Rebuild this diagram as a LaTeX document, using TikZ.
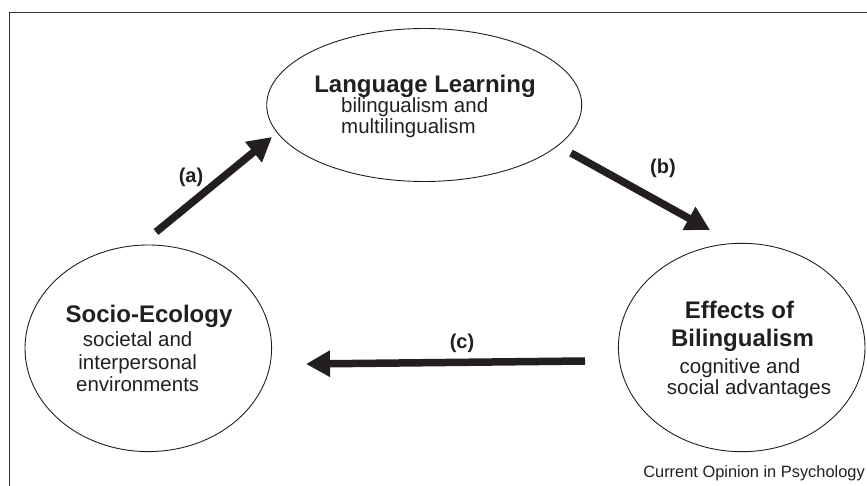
\documentclass[tikz,border=0pt]{standalone}
\usepackage{fontspec}
\setmainfont{Liberation Sans}
\usetikzlibrary{arrows.meta,shapes.geometric}
\definecolor{ink}{RGB}{35,31,32}
\definecolor{framegray}{RGB}{50,50,50}
\begin{document}
\begin{tikzpicture}[x=1pt,y=-1pt,
  bubble/.style={draw=ink, line width=0.9pt, ellipse, inner sep=0pt},
  bigarrow/.style={draw=ink, line width=7.5pt, -{Triangle[length=24pt,width=25pt]}},
  ttl/.style={font=\bfseries\fontsize{24}{26}\selectfont, text=ink, inner sep=0pt, anchor=base},
  sub/.style={font=\fontsize{20.5}{23}\selectfont, text=ink, inner sep=0pt, anchor=base},
  lbl/.style={font=\bfseries\fontsize{20}{22}\selectfont, text=ink, inner sep=0pt, anchor=center},
  credit/.style={font=\fontsize{16.4}{18}\selectfont, text=ink, inner sep=0pt, anchor=base east}]
\useasboundingbox (0,0) rectangle (867,486);
% frame (clipped by page edges)
\draw[framegray, line width=1.4pt] (9.5,486) -- (9.5,12.5) -- (867,12.5);
% ellipses
\node[bubble, minimum width=315pt, minimum height=153pt] (lang) at (424.2,105) {};
\node[bubble, minimum width=246.6pt, minimum height=206.6pt] (socio) at (148.3,348.3) {};
\node[bubble, minimum width=246.6pt, minimum height=208.4pt] (effects) at (741.7,347.5) {};
% texts
\node[ttl] (langT) at (425,93) {Language Learning};
\node[sub, anchor=base west] (langS1) at (341,113) {bilingualism and};
\node[sub, anchor=base west] (langS2) at (341,134) {multilingualism};
\node[ttl] (socioT) at (149,322) {Socio-Ecology};
\node[sub] (socioS1) at (137.7,346.5) {societal and};
\node[sub] (socioS2) at (137.7,369) {interpersonal};
\node[sub] (socioS3) at (137.7,391) {environments};
\node[ttl] (effT1) at (739.5,318) {Effects of};
\node[ttl] (effT2) at (742.5,346.7) {Bilingualism};
\node[sub] (effS1) at (740,373) {cognitive and};
\node[sub] (effS2) at (749,394) {social advantages};
% arrows
\coordinate (a0) at (156,232);
\coordinate (a1) at (272,137);
\coordinate (b0) at (571,153);
\coordinate (b1) at (710,230);
\coordinate (c0) at (585,361);
\coordinate (c1) at (306,364);
\draw[bigarrow] (a0) -- (a1);
\draw[bigarrow] (b0) -- (b1);
\draw[bigarrow] (c0) -- (c1);
\node[lbl] (la) at (191,177) {(a)};
\node[lbl] (lb) at (663,168) {(b)};
\node[lbl] (lc) at (462,343) {(c)};
\node[credit] (cred) at (865,477) {Current Opinion in Psychology};
\end{tikzpicture}
\end{document}
